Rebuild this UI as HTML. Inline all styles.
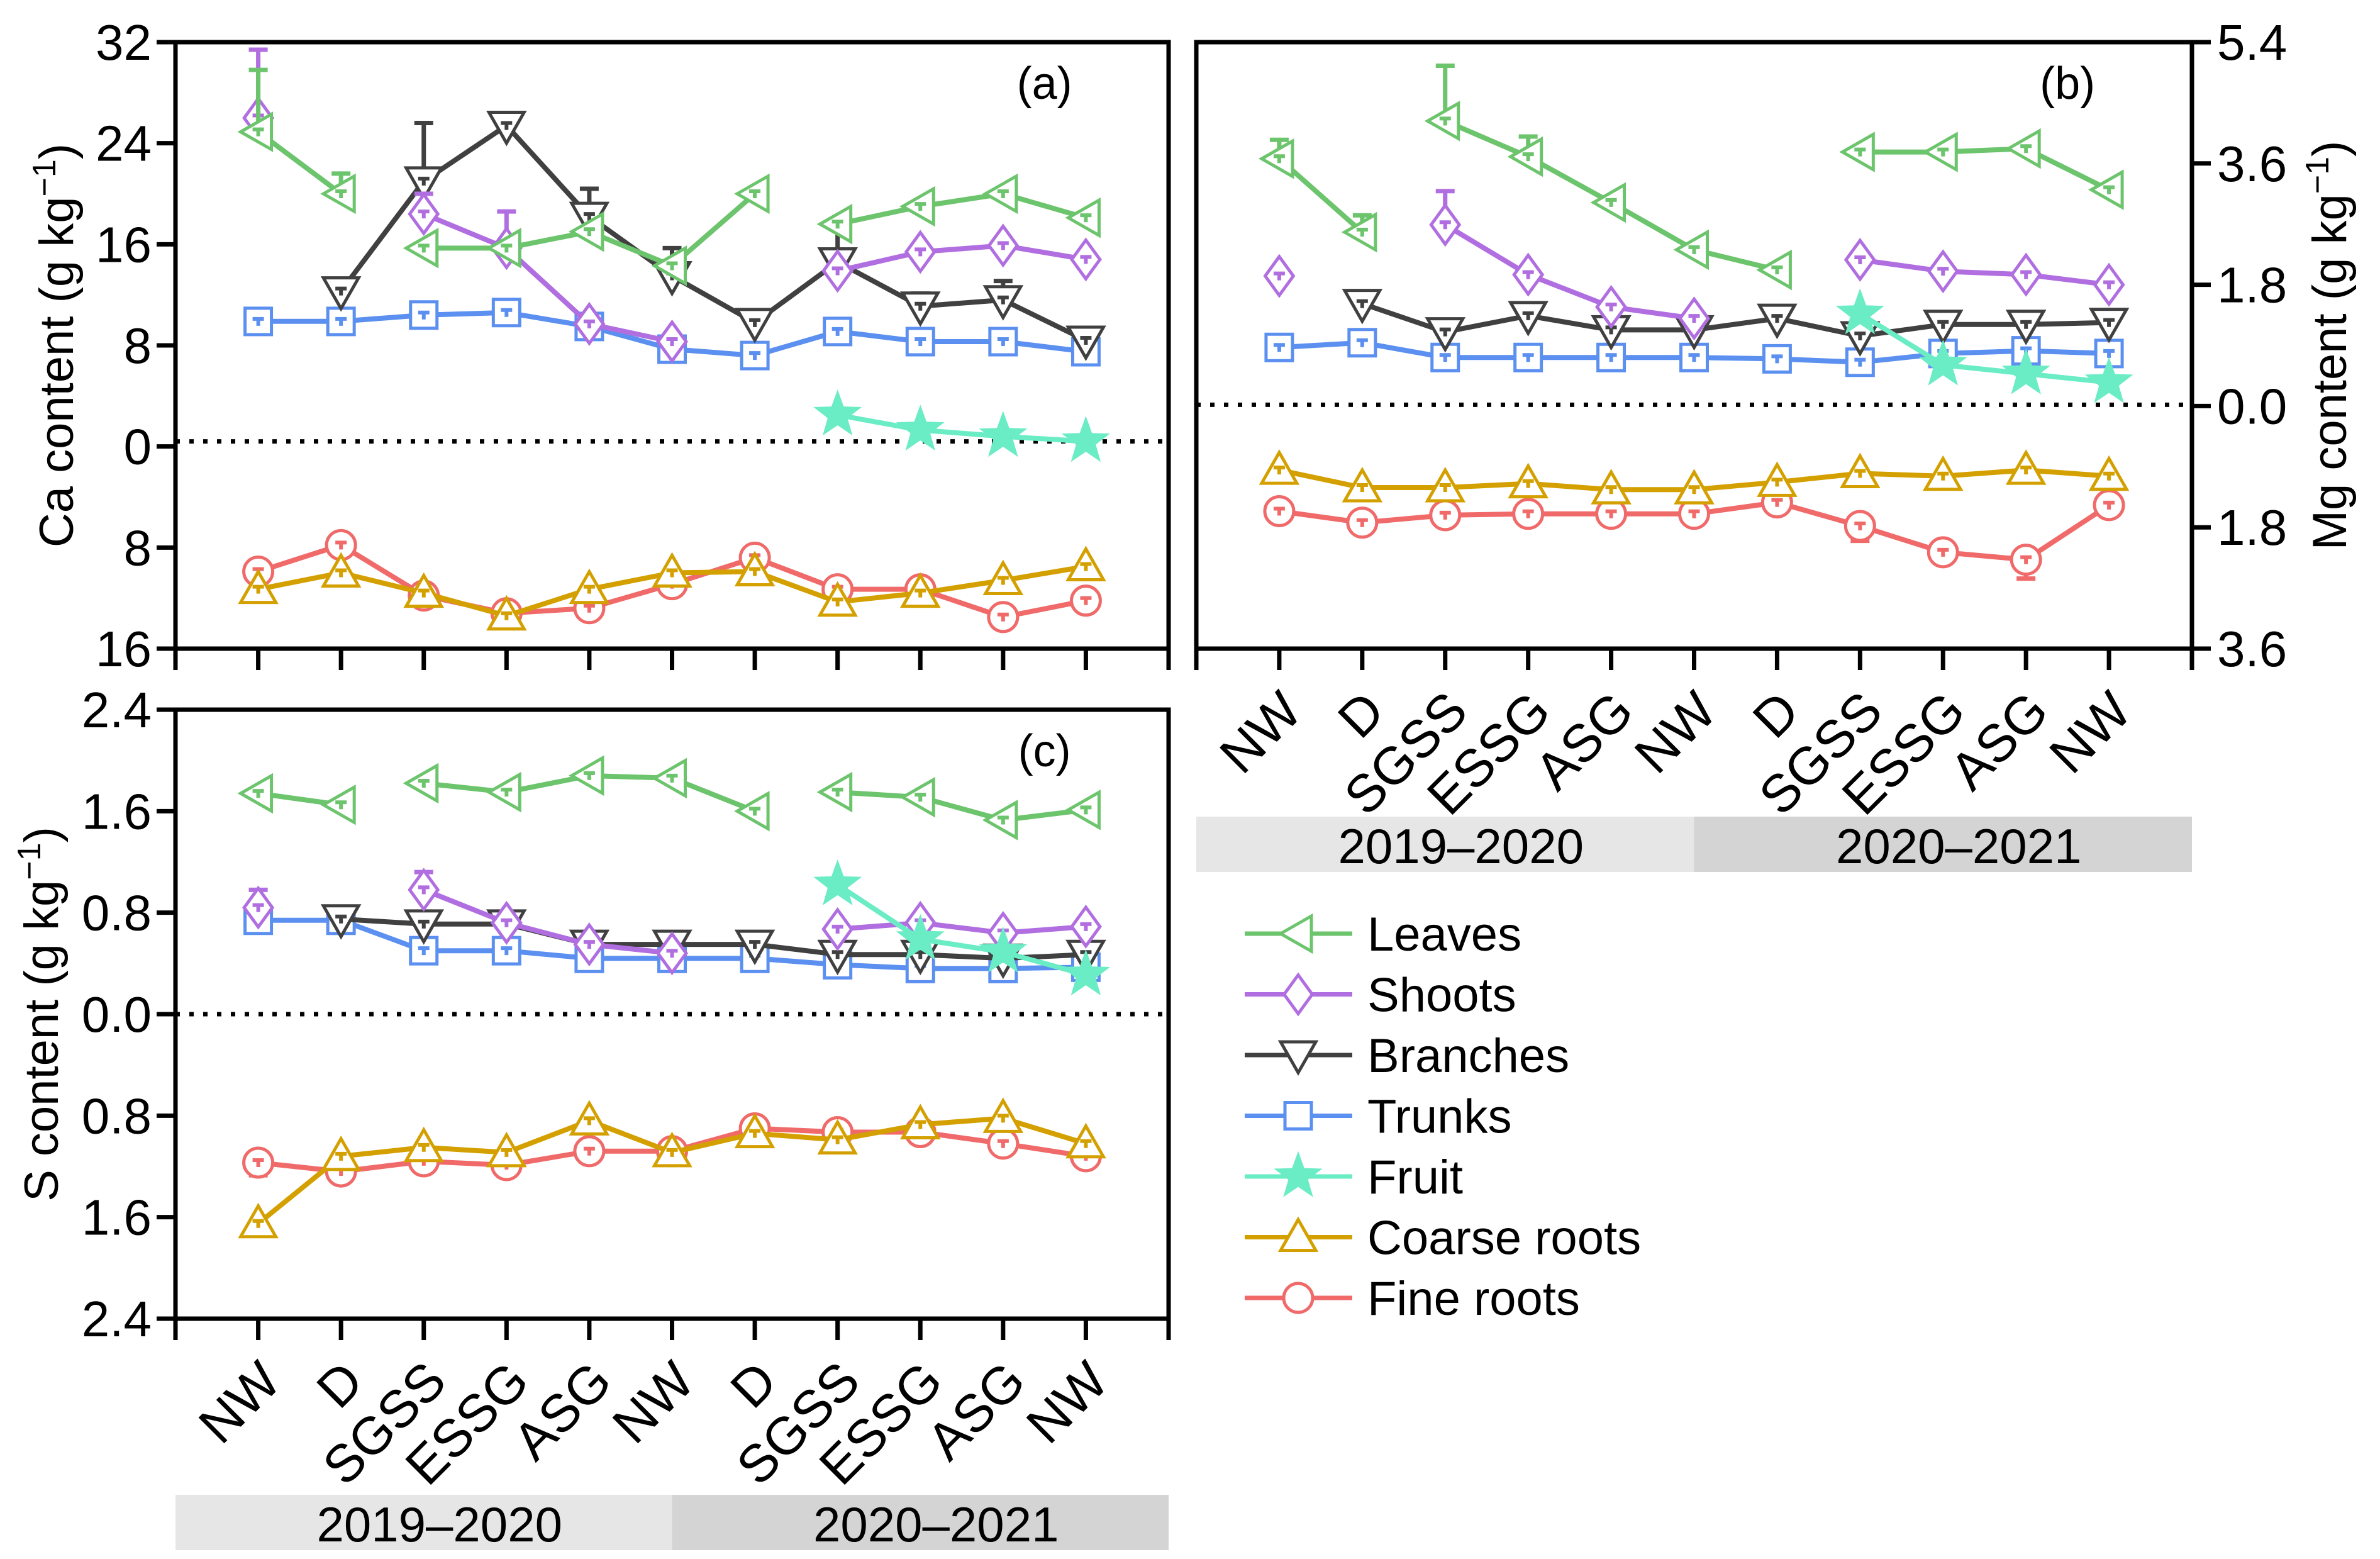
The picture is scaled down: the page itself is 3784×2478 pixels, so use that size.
<!DOCTYPE html>
<html><head><meta charset="utf-8"><style>
html,body{margin:0;padding:0;background:#fff;}
svg{display:block;font-family:"Liberation Sans",Arial,sans-serif;}
</style></head><body>
<svg id="chart" width="3784" height="2478" viewBox="0 0 3784 2478" xmlns="http://www.w3.org/2000/svg"></svg>
<script>
const categories = ["NW","D","SGSS","ESSG","ASG","NW","D","SGSS","ESSG","ASG","NW"];
const seasons = ["2019–2020","2020–2021"];
const seriesNames = ["Leaves","Shoots","Branches","Trunks","Fruit","Coarse roots","Fine roots"];
const leafBreaks = [2, 7];

// Panel (a) Ca
const caLeaves   = [24.9,20.0,15.7,15.7,17.0,14.3,20.0,17.6,19.0,20.0,18.1];
const caShoots   = [26.0,null,18.4,15.7,9.7,8.3,null,13.9,15.4,15.9,14.8];
const caBranches = [null,12.3,21.0,25.4,18.2,13.5,9.8,14.6,11.1,11.6,8.4];
const caTrunks   = [9.9,9.9,10.4,10.6,9.5,7.7,7.2,9.1,8.3,8.3,7.5];
const caFruit    = [null,null,null,null,null,null,null,2.5,1.3,0.8,0.4];
const caCoarse   = [11.3,10.0,11.6,13.4,11.3,10.0,9.9,12.3,11.6,10.6,9.5];
const caFine     = [9.9,7.8,11.8,13.2,12.8,10.9,8.8,11.3,11.3,13.5,12.2];
const caLeavesErr   = [4.9,1.6,0,0,0,0,0,0,0,0,0];
const caShootsErr   = [5.4,0,1.6,2.9,0,0,0,0,0,0,0];
const caBranchesErr = [0,0.9,4.6,0.3,2.2,2.2,0,2.9,1.0,1.5,0];
const caTicksUp = [32,24,16,8,0];
const caTicksDown = [8,16];

// Panel (b) Mg
const mgLeaves   = [3.67,2.58,4.23,3.70,3.02,2.32,2.02,3.77,3.77,3.82,3.21];
const mgShoots   = [1.93,null,2.69,1.95,1.47,1.30,null,2.17,2.00,1.95,1.80];
const mgBranches = [null,1.52,1.10,1.34,1.13,1.13,1.30,1.04,1.21,1.21,1.24];
const mgTrunks   = [0.87,0.94,0.72,0.72,0.72,0.72,0.70,0.65,0.78,0.82,0.78];
const mgFruit    = [null,null,null,null,null,null,null,1.37,0.61,0.48,0.35];
const mgCoarse   = [0.95,1.21,1.21,1.15,1.24,1.24,1.13,1.00,1.04,0.95,1.04];
const mgFine     = [1.56,1.73,1.62,1.60,1.60,1.60,1.43,1.78,2.17,2.28,1.47];
const mgLeavesErr = [0.28,0.25,0.82,0.30,0,0,0,0,0,0,0];
const mgShootsErr = [0.10,0,0.50,0,0,0,0,0,0,0,0];
const mgFineErr   = [0,0,0,0,0,0,0,0.22,0,0.28,0];
const mgTicksUp = [5.4,3.6,1.8,0.0];
const mgTicksDown = [1.8,3.6];

// Panel (c) S
const sLeaves   = [1.74,1.65,1.82,1.75,1.88,1.86,1.60,1.75,1.71,1.53,1.61];
const sShoots   = [0.84,null,0.98,0.72,0.55,0.48,null,0.67,0.72,0.64,0.69];
const sBranches = [null,0.75,0.71,0.71,0.55,0.55,0.55,0.47,0.47,0.44,0.47];
const sTrunks   = [0.74,0.74,0.50,0.50,0.44,0.44,0.44,0.39,0.36,0.36,0.37];
const sFruit    = [null,null,null,null,null,null,null,1.02,0.59,0.49,0.31];
const sCoarse   = [1.65,1.12,1.05,1.09,0.84,1.09,0.94,0.99,0.87,0.82,1.02];
const sFine     = [1.17,1.24,1.16,1.19,1.08,1.08,0.90,0.93,0.93,1.02,1.12];
const sShootsErr = [0.14,0,0.14,0,0,0,0,0,0,0,0];
const sFineErr   = [0.10,0,0,0,0,0,0,0,0,0,0];
const sTicksUp = [2.4,1.6,0.8,0.0];
const sTicksDown = [0.8,1.6,2.4];

const NS = "http://www.w3.org/2000/svg";
const svg = document.getElementById("chart");
function mk(tag, attrs, parent){
  const e = document.createElementNS(NS, tag);
  for (const k in attrs) e.setAttribute(k, attrs[k]);
  (parent||svg).appendChild(e);
  return e;
}
const COL = {leaves:"#6cc46c", shoots:"#b06ee0", branches:"#404040", trunks:"#5b8ff0", fruit:"#6aecc4", coarse:"#d4a000", fine:"#f06a6a"};

function markerPath(type, x, y, s){
  if (type==="left") return `M${x-s},${y} L${x+s*0.75},${y-s} L${x+s*0.75},${y+s} Z`;
  if (type==="down") return `M${x-s},${y-s*0.75} L${x+s},${y-s*0.75} L${x},${y+s} Z`;
  if (type==="up") return `M${x-s},${y+s*0.75} L${x+s},${y+s*0.75} L${x},${y-s} Z`;
  if (type==="diamond") return `M${x},${y-s*1.1} L${x+s*0.8},${y} L${x},${y+s*1.1} L${x-s*0.8},${y} Z`;
  if (type==="square") return `M${x-s*0.75},${y-s*0.75} h${s*1.5} v${s*1.5} h${-s*1.5} Z`;
  if (type==="star"){ let d=""; for(let k=0;k<10;k++){const r=k%2===0?s*1.1:s*0.45;const a=-Math.PI/2+k*Math.PI/5;d+=(k?"L":"M")+(x+r*Math.cos(a)).toFixed(1)+","+(y+r*Math.sin(a)).toFixed(1);} return d+"Z"; }
  return "";
}
function drawMarker(g, type, x, y, color, name){
  if (type==="circle"){
    const c = mk("circle",{cx:x,cy:y,r:23,fill:"#fff",stroke:color,"stroke-width":5},g);
    
    
    return;
  }
  const star = type==="star";
  const p = mk("path",{d:markerPath(type,x,y,star?30:28),fill:star?color:"#fff",stroke:color,"stroke-width":5,"stroke-linejoin":"miter"},g);
  
  
}

function drawPanel(cfg){
  const {L,R,T,B,up,down,id} = cfg;
  const zeroY = T + (B-T)*up/(up+down);
  const ppu = (B-T)/(up+down);
  const xAt = i => L + (i+1)*(R-L)/12;
  const yUp = v => zeroY - v*ppu;
  const yDown = v => zeroY + v*ppu;
  const g = mk("g",{});
  
  

  const zl = mk("line",{x1:L,x2:R,y1:zeroY-cfg.zOff,y2:zeroY-cfg.zOff,stroke:"#000","stroke-width":7,"stroke-dasharray":"7 15"},g);
  
  

  cfg.series.forEach(s=>{
    const sg = mk("g",{},g);
    
    
    const yf = s.down ? yDown : yUp;
    let d = "", prev = false;
    s.vals.forEach((v,i)=>{
      if (v===null){prev=false;return;}
      const brk = s.breaks && s.breaks.includes(i);
      d += (prev && !brk ? "L" : "M") + xAt(i).toFixed(1)+","+yf(v).toFixed(1)+" ";
      prev = true;
    });
    mk("path",{d:d,fill:"none",stroke:s.color,"stroke-width":8,"stroke-linejoin":"round"},sg);
    if (s.err) s.vals.forEach((v,i)=>{
      if (v===null || !s.err[i]) return;
      const x = xAt(i), y1 = yf(v), y2 = yf(v + s.err[i]);
      const eb = mk("path",{d:`M${x},${y1} V${y2} M${x-15},${y2} H${x+15}`,stroke:s.color,"stroke-width":7,fill:"none"},sg);
      
      
    });
    s.vals.forEach((v,i)=>{
      if (v===null) return;
      drawMarker(sg, s.marker, xAt(i), yf(v), s.color, s.key+'-point');
      if (s.marker!=="star"){
        const x=xAt(i), y=yf(v);
        mk("path",{d:`M${x-9},${y-4} H${x+9} M${x},${y-4} V${y+7}`,stroke:s.color,"stroke-width":6},sg);
      }
    });
  });

  const fr = mk("rect",{x:L,y:T,width:R-L,height:B-T,fill:"none",stroke:"#000","stroke-width":7},g);
  
  

  for (let k=0;k<=12;k++){
    const x = L + k*(R-L)/12;
    mk("line",{x1:x,x2:x,y1:B,y2:B+34,stroke:"#000","stroke-width":7},g);
  }
  const side = cfg.axisSide;
  const ax = side==="left" ? L : R;
  const tickLen = side==="left" ? -30 : 30;
  const yt = mk("g",{},g);
  
  
  const addTick = (v,y)=>{
    mk("line",{x1:ax,x2:ax+tickLen,y1:y,y2:y,stroke:"#000","stroke-width":7},yt);
    const t = mk("text",{x: side==="left"? ax-38 : ax+40, y:y+28, "font-size":80,"text-anchor": side==="left"?"end":"start", fill:"#000"},yt);
    t.textContent = cfg.fmt(v);
  };
  cfg.ticksUp.forEach(v=>addTick(v,yUp(v)));
  cfg.ticksDown.forEach(v=>addTick(v,yDown(v)));

  const tc = cfg.titleX, ty = (T+B)/2;
  const tt = mk("text",{x:tc,y:ty,"font-size":76,"text-anchor":"middle",transform:`rotate(-90 ${tc} ${ty})`,fill:"#000"},g);
  
  
  tt.innerHTML = cfg.title + ' (g kg<tspan dy="-28" font-size="52">−1</tspan><tspan dy="28">)</tspan>';

  const pl = mk("text",{x:L+(R-L)*0.875,y:T+90,"font-size":72,"text-anchor":"middle",fill:"#000"},g);
  
  
  pl.textContent = cfg.label;

  if (cfg.cats){
    categories.forEach((c,i)=>{
      const x = xAt(i)+40, y = B+104;
      const t = mk("text",{x:x,y:y,"font-size":84,"text-anchor":"end",transform:`rotate(-45 ${x} ${y})`,fill:"#000"},g);
      
      
      t.textContent = c;
    });
    const mid = (L+R)/2;
    const b1 = mk("rect",{x:L,y:cfg.bandY,width:mid-L,height:88,fill:"#e6e6e6"},g);
    
    
    const b2 = mk("rect",{x:mid,y:cfg.bandY,width:R-mid,height:88,fill:"#d4d4d4"},g);
    
    
    seasons.forEach((s,k)=>{
      const t = mk("text",{x:k===0?(L+mid)/2+25:(mid+R)/2+25,y:cfg.bandY+74,"font-size":78,"text-anchor":"middle",fill:"#000"},g);
      
      
      t.textContent = s;
    });
  }
}

function mkSeries(lv,sh,br,tr,fr,co,fi,errs){
  return [
    {key:"fine-roots",vals:fi,color:COL.fine,marker:"circle",down:true,err:errs.fine},
    {key:"coarse-roots",vals:co,color:COL.coarse,marker:"up",down:true},
    {key:"trunks",vals:tr,color:COL.trunks,marker:"square"},
    {key:"branches",vals:br,color:COL.branches,marker:"down",err:errs.branches},
    {key:"shoots",vals:sh,color:COL.shoots,marker:"diamond",breaks:leafBreaks,err:errs.shoots},
    {key:"leaves",vals:lv,color:COL.leaves,marker:"left",breaks:leafBreaks,err:errs.leaves},
    {key:"fruit",vals:fr,color:COL.fruit,marker:"star"}
  ];
}

drawPanel({id:"panel-a",L:279,R:1858,T:67,B:1031,up:32,down:16,zOff:8,axisSide:"left",
  ticksUp:caTicksUp,ticksDown:caTicksDown,fmt:v=>String(v),title:"Ca content",titleX:116,label:"(a)",
  series:mkSeries(caLeaves,caShoots,caBranches,caTrunks,caFruit,caCoarse,caFine,{leaves:caLeavesErr,shoots:caShootsErr,branches:caBranchesErr})});
drawPanel({id:"panel-b",L:1902,R:3485,T:67,B:1031,up:5.4,down:3.6,zOff:2,axisSide:"right",
  ticksUp:mgTicksUp,ticksDown:mgTicksDown,fmt:v=>v.toFixed(1),title:"Mg content",titleX:3730,label:"(b)",
  cats:true,bandY:1298,
  series:mkSeries(mgLeaves,mgShoots,mgBranches,mgTrunks,mgFruit,mgCoarse,mgFine,{leaves:mgLeavesErr,shoots:mgShootsErr,fine:mgFineErr})});
drawPanel({id:"panel-c",L:279,R:1858,T:1128,B:2096,up:2.4,down:2.4,zOff:0,axisSide:"left",
  ticksUp:sTicksUp,ticksDown:sTicksDown,fmt:v=>v.toFixed(1),title:"S content",titleX:92,label:"(c)",
  cats:true,bandY:2376,
  series:mkSeries(sLeaves,sShoots,sBranches,sTrunks,sFruit,sCoarse,sFine,{shoots:sShootsErr,fine:sFineErr})});

const legendMarkers = ["left","diamond","down","square","star","up","circle"];
const legendColors = [COL.leaves,COL.shoots,COL.branches,COL.trunks,COL.fruit,COL.coarse,COL.fine];
const lg = mk("g",{});


seriesNames.forEach((n,i)=>{
  const y = 1484 + i*96.5;
  const eg = mk("g",{},lg);
  
  
  mk("line",{x1:1979,x2:2150,y1:y,y2:y,stroke:legendColors[i],"stroke-width":7},eg);
  drawMarker(eg, legendMarkers[i], 2064, y, legendColors[i], 'legend-marker');
  const t = mk("text",{x:2174,y:y+27,"font-size":76,fill:"#000"},eg);
  t.textContent = n;
});
</script>
</body></html>
